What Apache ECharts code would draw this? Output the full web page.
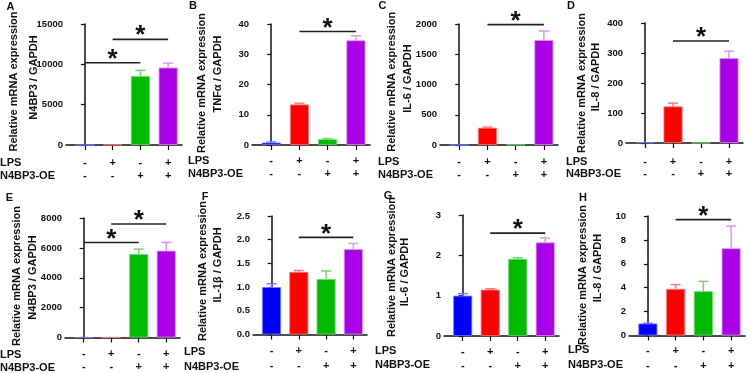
<!DOCTYPE html>
<html>
<head>
<meta charset="utf-8">
<script src="https://cdn.jsdelivr.net/npm/echarts@6/dist/echarts.min.js"></script>
<style>
  html, body { margin: 0; padding: 0; background: #fff; }
  #chart { width: 753px; height: 373px; }
</style>
</head>
<body>
<div id="chart"></div>
<script>
// groups: LPS / N4BP3-OE  (- or +)
var lpsRow = ['-', '+', '-', '+'];
var oeRow = ['-', '-', '+', '+'];
var barColors = ['#0000ff', '#ff0000', '#00bb00', '#aa00e6'];
var errColors = ['#7a7aff', '#ff7a7a', '#70d870', '#dc96f2'];

var panelLetters = ['A', 'B', 'C', 'D', 'E', 'F', 'G', 'H'];
var geneLabels = ['N4BP3 / GAPDH', 'TNFα / GAPDH', 'IL-6 / GAPDH', 'IL-8 / GAPDH',
                  'N4BP3 / GAPDH', 'IL-1β / GAPDH', 'IL-6 / GAPDH', 'IL-8 / GAPDH'];

// mean values
var meanA = [1, 40, 8550, 9600];
var meanB = [0.8, 13.4, 1.9, 34.6];
var meanC = [1, 285, 5, 1735];
var meanD = [2, 122, 0.5, 283];
var meanE = [1, 5, 5590, 5810];
var meanF = [1.0, 1.32, 1.17, 1.80];
var meanG = [1.0, 1.15, 1.91, 2.32];
var meanH = [1.0, 3.9, 3.7, 7.3];

// error (upper) values
var errA = [0, 0, 700, 550];
var errB = [0.2, 0.4, 0.2, 1.5];
var errC = [0, 12, 0, 150];
var errD = [0, 11, 0, 23];
var errE = [0, 0, 330, 560];
var errF = [0.07, 0.03, 0.17, 0.12];
var errG = [0.05, 0.02, 0.03, 0.11];
var errH = [0.03, 0.36, 0.83, 1.85];

// significance brackets [from group, to group, height]
var sigA = [[0, 2, 10200], [1, 3, 13100]];
var sigB = [[1, 3, 37.5]];
var sigC = [[1, 3, 1990]];
var sigD = [[1, 3, 340]];
var sigE = [[0, 2, 6360], [1, 3, 7600]];
var sigF = [[1, 3, 2.05]];
var sigG = [[1, 3, 2.55]];
var sigH = [[1, 3, 9.7]];

// y axis scale
var yMax = [15000, 40, 2000, 400, 8000, 2.5, 3, 10];
var yStep = [5000, 10, 500, 100, 2000, 0.5, 1, 2];

var means = [meanA, meanB, meanC, meanD, meanE, meanF, meanG, meanH];
var errs = [errA, errB, errC, errD, errE, errF, errG, errH];
var sigs = [sigA, sigB, sigC, sigD, sigE, sigF, sigG, sigH];

var FONT = '"Liberation Sans", Arial, sans-serif';

// layout: grid [left, top, width, height], letter pos, title line positions, row labels [x, yLPS, yOE]
var layouts = [
    { grid: [66, 24, 116, 121], letter: [10.5, 7], t1: [14.3, 81.5], t2: [34.3, 77.5], rows: [0, 163, 176] },
    { grid: [252, 24, 118, 121], letter: [193, 6], t1: [202, 83], t2: [218, 74], rows: [188, 161, 174] },
    { grid: [440, 24, 118, 121], letter: [382.5, 6], t1: [392, 81.7], t2: [407.7, 78.5], rows: [378, 162, 175] },
    { grid: [626, 23, 117, 120], letter: [571, 6], t1: [581.7, 83], t2: [596.3, 77], rows: [566, 162, 174] },
    { grid: [65, 218, 115, 121], letter: [9.5, 198], t1: [17.2, 276], t2: [33.3, 277.5], rows: [0, 355, 368] },
    { grid: [253, 216, 114, 121], letter: [205, 196.5], t1: [203.3, 271], t2: [218.3, 265], rows: [184, 352, 367] },
    { grid: [444, 215, 115, 121], letter: [388, 196], t1: [391.7, 267], t2: [405, 272], rows: [375, 351, 365] },
    { grid: [629, 216, 116, 120], letter: [583, 198], t1: [583, 275], t2: [598, 268], rows: [568, 350, 365] }
];

var grids = [], xAxes = [], yAxes = [], series = [], graphics = [];

layouts.forEach(function (L, p) {
    var g = L.grid;
    var axisY = g[1] + g[3];
    grids.push({ left: g[0], top: g[1], width: g[2], height: g[3] });

    xAxes.push({
        gridIndex: p,
        type: 'value',
        min: -0.68,
        max: 3.5,
        splitLine: { show: false },
        axisLine: { lineStyle: { color: '#111', width: 1.5 } },
        axisTick: { customValues: [0, 1, 2, 3], length: 5, lineStyle: { color: '#111', width: 1.2 } },
        axisLabel: {
            customValues: [0, 1, 2, 3],
            formatter: function (v) { return lpsRow[v] + '\n' + oeRow[v]; },
            margin: L.rows[1] - axisY - 6.5,
            lineHeight: L.rows[2] - L.rows[1],
            fontSize: 11,
            fontWeight: 'bold',
            fontFamily: FONT,
            color: '#111'
        }
    });

    yAxes.push({
        gridIndex: p,
        type: 'value',
        min: 0,
        max: yMax[p],
        interval: yStep[p],
        splitLine: { show: false },
        axisLine: { show: true, lineStyle: { color: '#111', width: 1.5 } },
        axisTick: { show: true, length: 4, lineStyle: { color: '#111', width: 1.2 } },
        axisLabel: {
            fontSize: 9.5,
            fontWeight: 'bold',
            fontFamily: FONT,
            color: '#111',
            margin: 3,
            formatter: function (v) { return p === 5 ? v.toFixed(1) : String(v); }
        }
    });

    series.push({
        type: 'bar',
        xAxisIndex: p,
        yAxisIndex: p,
        barWidth: 19,
        data: means[p].map(function (v, i) {
            return {
                value: [i, v],
                itemStyle: { color: barColors[i], borderColor: errColors[i], borderWidth: 0.8 }
            };
        })
    });

    // upper error bars, skipped where no error
    series.push({
        type: 'custom',
        xAxisIndex: p,
        yAxisIndex: p,
        encode: { x: 0, y: [1, 2] },
        data: means[p].map(function (v, i) { return [i, v, v + errs[p][i]]; }),
        renderItem: function (params, api) {
            var i = api.value(0);
            if (api.value(2) <= api.value(1)) return null;
            var base = api.coord([i, api.value(1)]);
            var top = api.coord([i, api.value(2)]);
            var st = { stroke: errColors[i], lineWidth: 1.5 };
            return {
                type: 'group',
                children: [
                    { type: 'line', shape: { x1: base[0], y1: base[1], x2: top[0], y2: top[1] }, style: st },
                    { type: 'line', shape: { x1: top[0] - 5, y1: top[1], x2: top[0] + 5, y2: top[1] }, style: st }
                ]
            };
        }
    });

    series.push({
        type: 'custom',
        xAxisIndex: p,
        yAxisIndex: p,
        encode: { x: [0, 1], y: 2 },
        data: sigs[p],
        renderItem: function (params, api) {
            var a = api.coord([api.value(0), api.value(2)]);
            var b = api.coord([api.value(1), api.value(2)]);
            return {
                type: 'group',
                children: [
                    { type: 'line', shape: { x1: a[0], y1: a[1], x2: b[0], y2: b[1] },
                      style: { stroke: '#222', lineWidth: 1.6 } },
                    { type: 'text', x: (a[0] + b[0]) / 2, y: a[1] - 3,
                      style: { text: '*', fontSize: 26, fontWeight: 'bold', fontFamily: FONT,
                               fill: '#111', align: 'center', verticalAlign: 'middle' } }
                ]
            };
        }
    });

    var txt = function (x, y, text, extra) {
        var el = {
            type: 'text', x: x, y: y,
            style: { text: text, fontSize: 11, fontWeight: 'bold', fontFamily: FONT, fill: '#111',
                     align: 'center', verticalAlign: 'middle' }
        };
        for (var k in extra) el[k] = extra[k];
        return el;
    };
    graphics.push(txt(L.letter[0], L.letter[1], panelLetters[p], {}));
    graphics.push(txt(L.t1[0], L.t1[1], 'Relative mRNA expression', { rotation: Math.PI / 2 }));
    graphics.push(txt(L.t2[0], L.t2[1], geneLabels[p], { rotation: Math.PI / 2 }));
    var r1 = txt(L.rows[0], L.rows[1], 'LPS', {});
    r1.style.align = 'left';
    var r2 = txt(L.rows[0], L.rows[2], 'N4BP3-OE', {});
    r2.style.align = 'left';
    graphics.push(r1, r2);
});

var chart = echarts.init(document.getElementById('chart'));
chart.setOption({
    animation: false,
    backgroundColor: '#fff',
    grid: grids,
    xAxis: xAxes,
    yAxis: yAxes,
    series: series,
    graphic: graphics
});
</script>
</body>
</html>
